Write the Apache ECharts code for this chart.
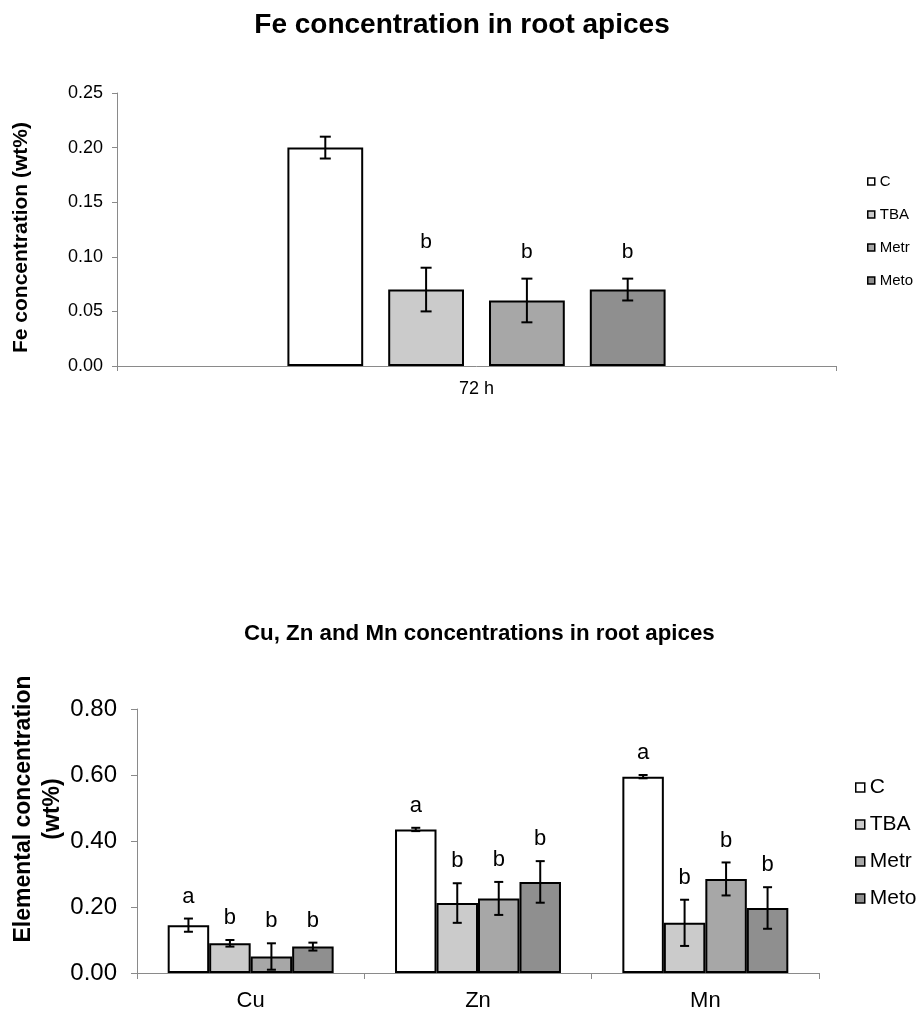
<!DOCTYPE html>
<html lang="en">
	<head>
		<meta charset="utf-8" />
		<title>Fe, Cu, Zn and Mn in root apices</title>
		<style>
			html, body { margin: 0; padding: 0; background: #fff; }
			#main { width: 924px; height: 1013px; }
		</style>
	</head>
	<body>
		<div id="main"></div>
		<script src="https://cdn.jsdelivr.net/npm/echarts@6/dist/echarts.min.js"></script>
		<script type="text/javascript">
			/*************** data ***************/
			const treatments = ['C', 'TBA', 'Metr', 'Meto'];
			const fills = ['#ffffff', '#cbcbcb', '#a7a7a7', '#8f8f8f'];

			// Fe, 72 h (one value per treatment)
			const feCategories = ['72 h'];
			const feMean = [0.20, 0.07, 0.06, 0.07];
			const feErr = [0.01, 0.02, 0.02, 0.01];
			const feLetters = ['', 'b', 'b', 'b'];

			// Cu, Zn, Mn
			const elements = ['Cu', 'Zn', 'Mn'];
			const cMean = [0.145, 0.435, 0.595];
			const cErr = [0.02, 0.005, 0.005];
			const tbaMean = [0.09, 0.212, 0.152];
			const tbaErr = [0.01, 0.06, 0.07];
			const metrMean = [0.05, 0.226, 0.285];
			const metrErr = [0.04, 0.05, 0.05];
			const metoMean = [0.08, 0.276, 0.197];
			const metoErr = [0.012, 0.063, 0.063];
			const cLetters = ['a', 'a', 'a'];
			const tbaLetters = ['b', 'b', 'b'];
			const metrLetters = ['b', 'b', 'b'];
			const metoLetters = ['b', 'b', 'b'];

			const elMeans = [cMean, tbaMean, metrMean, metoMean];
			const elErrs = [cErr, tbaErr, metrErr, metoErr];
			const elLetters = [cLetters, tbaLetters, metrLetters, metoLetters];

			/*************** layout constants ***************/
			const FONT = 'Liberation Sans, Arial, sans-serif';
			const feCatGap = 0.474, feBarGap = 0.33;
			const elCatGap = 0.27, elBarGap = 0;

			const chart = echarts.init(document.getElementById('main'));

			// error bar + significance letter, drawn over bar i of n
			function errorSeries(gi, i, n, catGap, barGap, lows, highs, letters, capW, lift, fontSize) {
				const data = lows.map(function(lo, j) { return [j, lo, highs[j]]; });
				return {
					type: 'custom',
					name: treatments[i] + ' err',
					xAxisIndex: gi,
					yAxisIndex: gi,
					z: 5,
					encode: { x: 0, y: [1, 2] },
					data: data,
					renderItem: function(params, api) {
						const j = api.value(0);
						const lo = api.coord([j, api.value(1)]);
						const hi = api.coord([j, api.value(2)]);
						const band = api.size([1, 0])[0];
						const groupW = band * (1 - catGap);
						const w = groupW / (n + (n - 1) * barGap);
						const x = lo[0] - groupW / 2 + w / 2 + i * w * (1 + barGap);
						const st = { stroke: '#000', lineWidth: 2 };
						return {
							type: 'group',
							children: [
								{ type: 'line', shape: { x1: x, y1: lo[1], x2: x, y2: hi[1] }, style: st },
								{ type: 'line', shape: { x1: x - capW / 2, y1: lo[1], x2: x + capW / 2, y2: lo[1] }, style: st },
								{ type: 'line', shape: { x1: x - capW / 2, y1: hi[1], x2: x + capW / 2, y2: hi[1] }, style: st },
								{
									type: 'text',
									style: {
										x: x, y: hi[1] - lift,
										text: letters[params.dataIndex],
										fill: '#000',
										font: fontSize + 'px ' + FONT,
										align: 'center',
										verticalAlign: 'middle'
									}
								}
							]
						};
					}
				};
			}

			const series = [];
			// Fe bars
			treatments.forEach(function(t, i) {
				series.push({
					type: 'bar',
					name: t,
					xAxisIndex: 0,
					yAxisIndex: 0,
					data: [feMean[i]],
					barGap: (feBarGap * 100) + '%',
					barCategoryGap: (feCatGap * 100) + '%',
					itemStyle: { color: fills[i], borderColor: '#000', borderWidth: 2 }
				});
			});
			treatments.forEach(function(t, i) {
				series.push(errorSeries(0, i, 4, feCatGap, feBarGap,
					[feMean[i] - feErr[i]], [feMean[i] + feErr[i]], [feLetters[i]], 11, 26, 21));
			});
			// Cu, Zn, Mn bars
			treatments.forEach(function(t, i) {
				series.push({
					type: 'bar',
					name: t,
					xAxisIndex: 1,
					yAxisIndex: 1,
					data: elMeans[i],
					barGap: (elBarGap * 100) + '%',
					barCategoryGap: (elCatGap * 100) + '%',
					itemStyle: { color: fills[i], borderColor: '#000', borderWidth: 2 }
				});
			});
			treatments.forEach(function(t, i) {
				const lows = elMeans[i].map(function(m, j) { return m - elErrs[i][j]; });
				const highs = elMeans[i].map(function(m, j) { return m + elErrs[i][j]; });
				series.push(errorSeries(1, i, 4, elCatGap, elBarGap, lows, highs, elLetters[i], 9, 22, 22));
			});

			const axisGray = '#8a8a8a';

			const option = {
				animation: false,
				backgroundColor: '#fff',
				textStyle: { fontFamily: FONT },
				title: [{
					text: 'Fe concentration in root apices',
					left: 'center',
					top: 6,
					textStyle: { fontSize: 28, fontWeight: 'bold', color: '#000', fontFamily: FONT }
				}, {
					text: 'Cu, Zn and Mn concentrations in root apices',
					left: 244,
					top: 623,
					padding: 0,
					textStyle: { fontSize: 22.3, fontWeight: 'bold', color: '#000', fontFamily: FONT }
				}],
				legend: [{
					orient: 'vertical',
					left: 867,
					top: 174,
					padding: 0,
					data: treatments,
					icon: 'rect',
					itemWidth: 7,
					itemHeight: 7,
					itemGap: 18,
					itemStyle: { borderColor: '#000', borderWidth: 1.5 },
					textStyle: { fontSize: 15, color: '#000', fontFamily: FONT }
				}, {
					orient: 'vertical',
					left: 855,
					top: 777,
					padding: 0,
					data: treatments,
					icon: 'rect',
					itemWidth: 9,
					itemHeight: 9,
					itemGap: 16,
					itemStyle: { borderColor: '#000', borderWidth: 1.5 },
					textStyle: { fontSize: 21, color: '#000', fontFamily: FONT }
				}],
				grid: [
					{ left: 117, right: 88, top: 93, bottom: 647, outerBoundsMode: 'none' },
					{ left: 137, right: 105, top: 709, bottom: 40, outerBoundsMode: 'none' }
				],
				xAxis: [{
					gridIndex: 0,
					type: 'category',
					data: feCategories,
					axisLine: { lineStyle: { color: axisGray, width: 1 } },
					axisTick: { show: true, length: 5, lineStyle: { color: axisGray } },
					axisLabel: { fontSize: 18, color: '#000', margin: 14 }
				}, {
					gridIndex: 1,
					type: 'category',
					data: elements,
					axisLine: { lineStyle: { color: axisGray, width: 1 } },
					axisTick: { show: true, length: 6, lineStyle: { color: axisGray } },
					axisLabel: { fontSize: 22, color: '#000', margin: 17 }
				}],
				yAxis: [{
					gridIndex: 0,
					type: 'value',
					min: 0,
					max: 0.25,
					interval: 0.05,
					name: 'Fe concentration (wt%)',
					nameLocation: 'middle',
					nameGap: 85,
					nameMoveOverlap: false,
					nameTextStyle: { fontSize: 21, fontWeight: 'bold', color: '#000', padding: [0, 16, 0, 0] },
					axisLine: { show: true, lineStyle: { color: axisGray, width: 1 } },
					axisTick: { show: true, length: 5, lineStyle: { color: axisGray } },
					splitLine: { show: false },
					axisLabel: {
						fontSize: 18, color: '#000', margin: 14,
						formatter: function(v) { return v.toFixed(2); }
					}
				}, {
					gridIndex: 1,
					type: 'value',
					min: 0,
					max: 0.8,
					interval: 0.2,
					name: 'Elemental concentration\n(wt%)',
					nameLocation: 'middle',
					nameGap: 70,
					nameMoveOverlap: false,
					nameTextStyle: { fontSize: 23, fontWeight: 'bold', color: '#000', lineHeight: 29, padding: [0, 0, 0, 64] },
					axisLine: { show: true, lineStyle: { color: axisGray, width: 1 } },
					axisTick: { show: true, length: 6, lineStyle: { color: axisGray } },
					splitLine: { show: false },
					axisLabel: {
						fontSize: 24, color: '#000', margin: 20,
						formatter: function(v) { return v.toFixed(2); }
					}
				}],
				series: series
			};

			chart.setOption(option);
		</script>
	</body>
</html>
